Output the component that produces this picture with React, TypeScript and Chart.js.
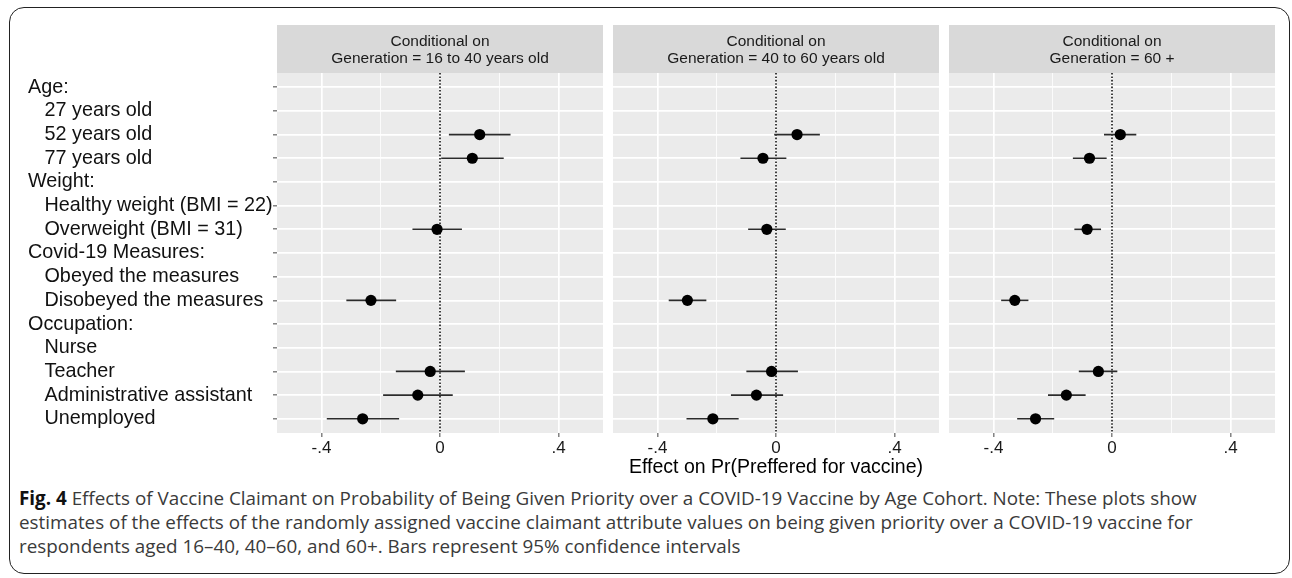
import React, { useEffect, useRef, useMemo } from 'react';
import { Chart, registerables } from 'chart.js';

Chart.register(...registerables);

const FONT = '"Liberation Sans", Arial, Helvetica, sans-serif';
const IND = '\u00a0\u00a0\u00a0';

// ---- data ----
const rowLabels = [
  'Age:',
  IND + '27 years old',
  IND + '52 years old',
  IND + '77 years old',
  'Weight:',
  IND + 'Healthy weight (BMI = 22)',
  IND + 'Overweight (BMI = 31)',
  'Covid-19 Measures:',
  IND + 'Obeyed the measures',
  IND + 'Disobeyed the measures',
  'Occupation:',
  IND + 'Nurse',
  IND + 'Teacher',
  IND + 'Administrative assistant',
  IND + 'Unemployed',
];

const stripTitles = [
  ['Conditional on', 'Generation = 16 to 40 years old'],
  ['Conditional on', 'Generation = 40 to 60 years old'],
  ['Conditional on', 'Generation = 60 +'],
];

const est16to40 = [null, null, 0.134, 0.109, null, null, -0.010, null, null, -0.233, null, null, -0.033, -0.075, -0.261];
const lo16to40 = [null, null, 0.030, 0.004, null, null, -0.093, null, null, -0.316, null, null, -0.149, -0.192, -0.382];
const hi16to40 = [null, null, 0.238, 0.215, null, null, 0.074, null, null, -0.148, null, null, 0.084, 0.043, -0.138];

const est40to60 = [null, null, 0.071, -0.044, null, null, -0.031, null, null, -0.299, null, null, -0.015, -0.066, -0.213];
const lo40to60 = [null, null, -0.006, -0.120, null, null, -0.094, null, null, -0.362, null, null, -0.100, -0.152, -0.302];
const hi40to60 = [null, null, 0.148, 0.035, null, null, 0.033, null, null, -0.235, null, null, 0.074, 0.024, -0.126];

const est60plus = [null, null, 0.028, -0.076, null, null, -0.084, null, null, -0.328, null, null, -0.046, -0.154, -0.258];
const lo60plus = [null, null, -0.027, -0.132, null, null, -0.127, null, null, -0.374, null, null, -0.112, -0.216, -0.320];
const hi60plus = [null, null, 0.082, -0.018, null, null, -0.037, null, null, -0.282, null, null, 0.018, -0.089, -0.195];

const xTickValues = [-0.4, -0.2, 0, 0.2, 0.4];
const xTickLabels = ['-.4', '', '0', '', '.4'];
const xMajor = [true, false, true, false, true];
const xMin = -0.55;
const xMax = 0.55;

const xTitle = 'Effect on Pr(Preffered for vaccine)';

const captionBold = 'Fig. 4';
const captionLines = [
  ' Effects of Vaccine Claimant on Probability of Being Given Priority over a COVID-19 Vaccine by Age Cohort. Note: These plots show',
  'estimates of the effects of the randomly assigned vaccine claimant attribute values on being given priority over a COVID-19 vaccine for',
  'respondents aged 16\u201340, 40\u201360, and 60+. Bars represent 95% confidence intervals',
];

// ---- layout constants ----
const CANVAS_H = 480;
const PLOT_TOP = 73;
const STRIP_TOP = 25;
const XAXIS_H = 47;

const panelDecor = {
  id: 'panelDecor',
  beforeDraw(chart: any, _args: any, opts: any) {
    const { ctx, chartArea } = chart;
    const { left, right, top, bottom } = chartArea;
    ctx.save();
    ctx.fillStyle = '#ebebeb';
    ctx.fillRect(left, top, right - left, bottom - top);
    ctx.fillStyle = '#d9d9d9';
    ctx.fillRect(left, STRIP_TOP, right - left, top - STRIP_TOP);
    ctx.fillStyle = '#1a1a1a';
    ctx.font = '15.5px ' + FONT;
    ctx.textAlign = 'center';
    ctx.textBaseline = 'middle';
    const cx = (left + right) / 2;
    (opts.lines || []).forEach((t: string, i: number) => {
      ctx.fillText(t, cx, 41.5 + i * 17.5);
    });
    ctx.restore();
  },
};

type PanelProps = {
  left: number;
  width: number;
  padLeft: number;
  padRight: number;
  yWidth: number;
  showY: boolean;
  showTitle: boolean;
  strip: string[];
  est: (number | null)[];
  lo: (number | null)[];
  hi: (number | null)[];
};

function Panel(p: PanelProps) {
  const ref = useRef<HTMLCanvasElement>(null);
  useEffect(() => {
    const points: any[] = [];
    const bars: any[] = [];
    p.est.forEach((v, i) => {
      if (v === null) return;
      points.push({ x: v, y: i });
      bars.push({
        type: 'line',
        data: [{ x: p.lo[i], y: i }, { x: p.hi[i], y: i }],
        borderColor: '#2b2b2b',
        borderWidth: 1.6,
        pointRadius: 0,
        fill: false,
      });
    });
    const datasets: any[] = [
      {
        type: 'scatter',
        data: points,
        pointRadius: 5.6,
        pointBackgroundColor: '#000',
        pointBorderWidth: 0,
        backgroundColor: '#000',
      },
      ...bars,
      {
        type: 'line',
        data: [{ x: 0, y: -0.6 }, { x: 0, y: 14.6 }],
        borderColor: '#111',
        borderWidth: 1.6,
        borderDash: [1.6, 1.8],
        pointRadius: 0,
        fill: false,
      },
    ];
    const chart = new Chart(ref.current!, {
      type: 'scatter',
      data: { datasets },
      options: {
        responsive: false,
        animation: false,
        events: [],
        layout: { padding: { top: PLOT_TOP, left: p.padLeft, right: p.padRight, bottom: 0 } },
        plugins: {
          legend: { display: false },
          tooltip: { enabled: false },
          title: { display: false },
          panelDecor: { lines: p.strip },
        } as any,
        scales: {
          x: {
            type: 'linear',
            min: xMin,
            max: xMax,
            afterBuildTicks: (s: any) => {
              s.ticks = xTickValues.map((v) => ({ value: v }));
            },
            afterFit: (s: any) => {
              s.height = XAXIS_H;
            },
            ticks: {
              autoSkip: false,
              maxRotation: 0,
              padding: 1,
              color: '#1a1a1a',
              font: { size: 17, family: FONT },
              callback: (v: any) => {
                const k = xTickValues.indexOf(Number(v));
                return k >= 0 ? xTickLabels[k] : '';
              },
            },
            grid: {
              color: '#ffffff',
              lineWidth: (c: any) => {
                const k = xTickValues.indexOf(c.tick ? c.tick.value : NaN);
                return k >= 0 && xMajor[k] ? 1.7 : 0.8;
              },
              tickLength: 4,
              tickWidth: 1,
              tickColor: (c: any) => {
                const k = xTickValues.indexOf(c.tick ? c.tick.value : NaN);
                return k >= 0 && xMajor[k] ? '#444' : 'rgba(0,0,0,0)';
              },
            },
            border: { display: false },
            title: {
              display: p.showTitle,
              text: xTitle,
              color: '#000',
              font: { size: 19.5, family: FONT },
              padding: { top: 0, bottom: 1 },
            },
          },
          y: {
            type: 'linear',
            reverse: true,
            min: -0.6,
            max: 14.6,
            afterBuildTicks: (s: any) => {
              s.ticks = rowLabels.map((_, i) => ({ value: i }));
            },
            afterFit: (s: any) => {
              s.width = p.yWidth;
            },
            ticks: {
              display: p.showY,
              autoSkip: false,
              crossAlign: 'far',
              padding: 0,
              color: '#111',
              font: { size: 19.8, family: FONT },
              callback: (v: any) => rowLabels[Number(v)] ?? '',
            },
            grid: {
              color: '#ffffff',
              lineWidth: 1.7,
              drawTicks: p.showY,
              tickLength: 4,
              tickWidth: 1,
              tickColor: '#444',
            },
            border: { display: false },
          },
        },
      } as any,
      plugins: [panelDecor],
    });
    return () => chart.destroy();
  }, []);
  return (
    <canvas
      ref={ref}
      width={p.width}
      height={CANVAS_H}
      style={{ position: 'absolute', left: p.left, top: 0, width: p.width, height: CANVAS_H }}
    />
  );
}

function Caption() {
  const size = useMemo(() => {
    const c = document.createElement('canvas').getContext('2d')!;
    c.font = 'bold 20px "Open Sans"';
    const wb = c.measureText(captionBold).width;
    c.font = '20px "Open Sans"';
    const wn = c.measureText(captionLines[0]).width;
    return (20 * 1179) / (wb + wn);
  }, []);
  const tops = [486, 510, 534];
  return (
    <>
      {captionLines.map((t, i) => (
        <div
          key={i}
          style={{
            position: 'absolute',
            left: 19,
            top: tops[i],
            fontFamily: '"Open Sans", sans-serif',
            fontSize: size,
            lineHeight: '24px',
            whiteSpace: 'pre',
            color: '#3a3a3a',
          }}
        >
          {i === 0 ? <b style={{ color: '#111' }}>{captionBold}</b> : null}
          {t}
        </div>
      ))}
    </>
  );
}

export default function App() {
  return (
    <div
      style={{
        position: 'fixed',
        left: 0,
        top: 0,
        width: 1292,
        height: 578,
        background: '#fff',
        overflow: 'hidden',
      }}
    >
      <div
        style={{
          position: 'absolute',
          left: 9,
          top: 7,
          width: 1290 - 9,
          height: 574 - 7,
          border: '1.5px solid #222',
          borderRadius: 15,
          boxSizing: 'border-box',
        }}
      />
      <Panel left={0} width={610} padLeft={28} padRight={7} yWidth={249} showY={true} showTitle={false}
        strip={stripTitles[0]} est={est16to40} lo={lo16to40} hi={hi16to40} />
      <Panel left={606} width={340} padLeft={7} padRight={7} yWidth={0} showY={false} showTitle={true}
        strip={stripTitles[1]} est={est40to60} lo={lo40to60} hi={hi40to60} />
      <Panel left={942} width={340} padLeft={7} padRight={7} yWidth={0} showY={false} showTitle={false}
        strip={stripTitles[2]} est={est60plus} lo={lo60plus} hi={hi60plus} />
      <Caption />
    </div>
  );
}
